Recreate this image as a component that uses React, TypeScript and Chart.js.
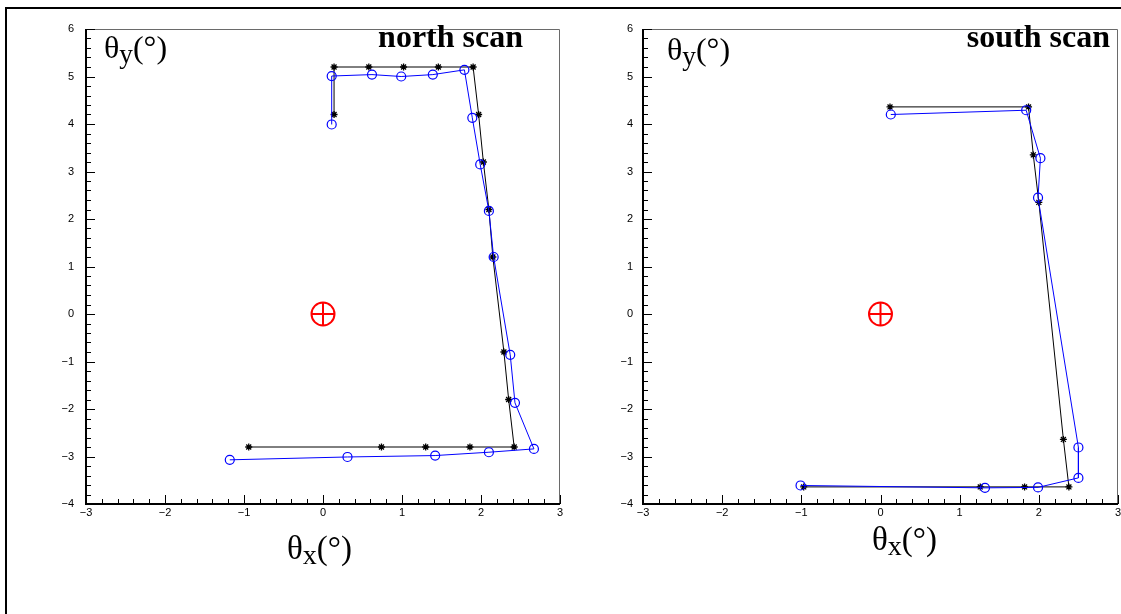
import React, { useEffect, useRef } from 'react';
import { Chart, registerables } from 'chart.js';

Chart.register(...registerables);

// ---- tick values and labels ----
const xTickValues = [-3, -2, -1, 0, 1, 2, 3];
const xTickLabels = ['\u22123', '\u22122', '\u22121', '0', '1', '2', '3'];
const yTickValues = [-4, -3, -2, -1, 0, 1, 2, 3, 4, 5, 6];
const yTickLabels = ['\u22124', '\u22123', '\u22122', '\u22121', '0', '1', '2', '3', '4', '5', '6'];

// ---- north scan ----
const northStarX = [0.14, 0.14, 0.58, 1.02, 1.46, 1.90, 1.97, 2.03, 2.10, 2.15, 2.29, 2.35, 2.42, 1.86, 1.30, 0.74, -0.94];
const northStarY = [4.2, 5.2, 5.2, 5.2, 5.2, 5.2, 4.2, 3.2, 2.2, 1.2, -0.8, -1.8, -2.8, -2.8, -2.8, -2.8, -2.8];
const northCircX = [0.11, 0.11, 0.62, 0.99, 1.39, 1.79, 1.89, 1.99, 2.10, 2.16, 2.37, 2.43, 2.67, 2.10, 1.42, 0.31, -1.18];
const northCircY = [3.99, 5.01, 5.04, 5.00, 5.04, 5.14, 4.13, 3.15, 2.17, 1.20, -0.86, -1.87, -2.84, -2.91, -2.98, -3.01, -3.07];

// ---- south scan ----
const southStarX = [0.12, 1.87, 1.93, 2.00, 2.31, 2.38, 1.82, 1.26, -0.97];
const southStarY = [4.36, 4.36, 3.35, 2.35, -2.64, -3.64, -3.64, -3.64, -3.64];
const southCircX = [0.13, 1.84, 2.02, 1.99, 2.50, 2.50, 1.99, 1.32, -1.01];
const southCircY = [4.20, 4.29, 3.28, 2.45, -2.81, -3.45, -3.65, -3.66, -3.61];

// ---- beam centre marker ----
const originX = [0];
const originY = [0];

const pts = (xs: number[], ys: number[]) => xs.map((x, i) => ({ x, y: ys[i] }));

const frameTicks = {
  id: 'frameTicks',
  afterDraw(chart: any) {
    const { ctx, chartArea: a, scales } = chart;
    const xs = scales.x;
    const ys = scales.y;
    ctx.save();
    // top & right frame
    ctx.strokeStyle = '#6a6a6a';
    ctx.lineWidth = 1;
    ctx.beginPath();
    ctx.moveTo(a.left, a.top + 0.5);
    ctx.lineTo(a.right - 0.5, a.top + 0.5);
    ctx.lineTo(a.right - 0.5, a.bottom);
    ctx.stroke();
    // ticks
    ctx.strokeStyle = '#000';
    ctx.lineWidth = 1;
    ctx.beginPath();
    const nx = Math.round((xs.max - xs.min) * 5);
    for (let i = 0; i <= nx; i++) {
      const v = xs.min + i * 0.2;
      const p = Math.round(xs.getPixelForValue(v)) + 0.5;
      const len = i % 5 === 0 ? 9 : 5;
      ctx.moveTo(p, a.bottom);
      ctx.lineTo(p, a.bottom - len);
    }
    const ny = Math.round((ys.max - ys.min) * 5);
    for (let i = 0; i <= ny; i++) {
      const v = ys.min + i * 0.2;
      const p = Math.round(ys.getPixelForValue(v)) + 0.5;
      const len = i % 5 === 0 ? 9 : 5;
      ctx.moveTo(a.left, p);
      ctx.lineTo(a.left + len, p);
    }
    ctx.stroke();
    // axes lines
    ctx.lineWidth = 2;
    ctx.beginPath();
    ctx.moveTo(a.left, a.top);
    ctx.lineTo(a.left, a.bottom);
    ctx.lineTo(a.right, a.bottom);
    ctx.stroke();
    ctx.restore();
  },
};

type PanelProps = {
  left: number;
  width: number;
  yAxisWidth: number;
  yPad: number;
  padRight: number;
  starX: number[];
  starY: number[];
  circX: number[];
  circY: number[];
};

function zeroPad(s: any) {
  s.paddingLeft = 0;
  s.paddingRight = 0;
  s.paddingTop = 0;
  s.paddingBottom = 0;
}

function Panel(p: PanelProps) {
  const ref = useRef<HTMLCanvasElement | null>(null);
  useEffect(() => {
    if (!ref.current) return;
    const tickFont = { family: '"Liberation Sans", Arial, sans-serif', size: 11 };
    const chart = new Chart(ref.current, {
      type: 'scatter',
      data: {
        datasets: [
          {
            data: pts(originX, originY),
            pointStyle: 'circle',
            pointRadius: 11.5,
            pointBorderWidth: 2,
            pointBorderColor: '#ff0000',
            pointBackgroundColor: 'rgba(0,0,0,0)',
            showLine: false,
            order: 0,
          },
          {
            data: pts(originX, originY),
            pointStyle: 'cross',
            pointRadius: 11.5,
            pointBorderWidth: 2,
            pointBorderColor: '#ff0000',
            pointBackgroundColor: 'rgba(0,0,0,0)',
            showLine: false,
            order: 0,
          },
          {
            data: pts(p.circX, p.circY),
            showLine: true,
            borderColor: '#0000ff',
            borderWidth: 1,
            pointStyle: 'circle',
            pointRadius: 4.5,
            pointBorderWidth: 1.2,
            pointBorderColor: '#0000ff',
            pointBackgroundColor: 'rgba(0,0,0,0)',
            order: 1,
          },
          {
            data: pts(p.starX, p.starY),
            showLine: true,
            borderColor: '#000000',
            borderWidth: 1,
            pointStyle: 'star',
            pointRadius: 3.5,
            pointBorderWidth: 1.3,
            pointBorderColor: '#000000',
            pointBackgroundColor: '#000000',
            order: 2,
          },
        ],
      },
      options: {
        animation: false,
        responsive: false,
        maintainAspectRatio: false,
        events: [],
        layout: { autoPadding: false, padding: { left: 0, right: p.padRight, top: 29, bottom: 80 } },
        plugins: {
          legend: { display: false },
          tooltip: { enabled: false },
          title: { display: false },
        },
        scales: {
          x: {
            type: 'linear',
            min: -3,
            max: 3,
            afterBuildTicks: (s: any) => {
              s.ticks = xTickValues.map((v) => ({ value: v }));
            },
            afterFit: (s: any) => {
              s.height = 30;
              zeroPad(s);
            },
            grid: { display: false, drawTicks: false, tickLength: 0 },
            border: { display: false },
            ticks: {
              padding: 2,
              maxRotation: 0,
              autoSkip: false,
              color: '#000',
              font: tickFont,
              callback: (_v: any, i: number) => xTickLabels[i],
            },
          },
          y: {
            type: 'linear',
            min: -4,
            max: 6,
            afterBuildTicks: (s: any) => {
              s.ticks = yTickValues.map((v) => ({ value: v }));
            },
            afterFit: (s: any) => {
              s.width = p.yAxisWidth;
              zeroPad(s);
            },
            grid: { display: false, drawTicks: false, tickLength: 0 },
            border: { display: false },
            ticks: {
              padding: p.yPad,
              autoSkip: false,
              color: '#000',
              font: tickFont,
              callback: (_v: any, i: number) => yTickLabels[i],
            },
          },
        },
      } as any,
      plugins: [frameTicks],
    });
    return () => chart.destroy();
  }, []);
  return (
    <canvas
      ref={ref}
      width={p.width}
      height={614}
      style={{ position: 'absolute', left: p.left, top: 0, width: p.width, height: 614 }}
    />
  );
}

const serif = '"Liberation Serif", "Times New Roman", serif';

function Label(props: { x?: number; right?: number; baseline: number; size: number; bold?: boolean; children: any }) {
  const top = props.baseline - 0.8375 * props.size;
  const style: any = {
    position: 'absolute',
    top,
    fontFamily: serif,
    fontSize: props.size,
    lineHeight: 1,
    fontWeight: props.bold ? 'bold' : 'normal',
    whiteSpace: 'nowrap',
    color: '#000',
  };
  if (props.right !== undefined) style.right = props.right;
  else style.left = props.x;
  return <div style={style}>{props.children}</div>;
}

const subStyle: any = { fontSize: '0.85em', position: 'relative', top: 5, verticalAlign: 'baseline', lineHeight: 1 };

function ThetaY() {
  return (
    <>
      θ<span style={subStyle}>y</span>(°)
    </>
  );
}
function ThetaX() {
  return (
    <>
      θ<span style={subStyle}>x</span>(°)
    </>
  );
}

export default function App() {
  return (
    <div
      style={{
        position: 'fixed',
        left: 0,
        top: 0,
        width: 1121,
        height: 614,
        overflow: 'hidden',
        background: '#fff',
      }}
    >
      <div
        style={{
          position: 'absolute',
          left: 5,
          top: 7,
          width: 1130,
          height: 620,
          borderTop: '2px solid #000',
          borderLeft: '2px solid #000',
        }}
      />
      <Panel
        left={0}
        width={570}
        yAxisWidth={86}
        yPad={12}
        padRight={10}
        starX={northStarX}
        starY={northStarY}
        circX={northCircX}
        circY={northCircY}
      />
      <Panel
        left={575}
        width={560}
        yAxisWidth={68}
        yPad={10}
        padRight={17}
        starX={southStarX}
        starY={southStarY}
        circX={southCircX}
        circY={southCircY}
      />
      <Label x={104} baseline={58} size={32}>
        <ThetaY />
      </Label>
      <Label x={667} baseline={60} size={32}>
        <ThetaY />
      </Label>
      <Label x={287} baseline={560} size={33}>
        <ThetaX />
      </Label>
      <Label x={872} baseline={551} size={33}>
        <ThetaX />
      </Label>
      <Label right={1121 - 523} baseline={47} size={32} bold>
        north scan
      </Label>
      <Label right={1121 - 1110} baseline={47} size={32} bold>
        south scan
      </Label>
    </div>
  );
}
